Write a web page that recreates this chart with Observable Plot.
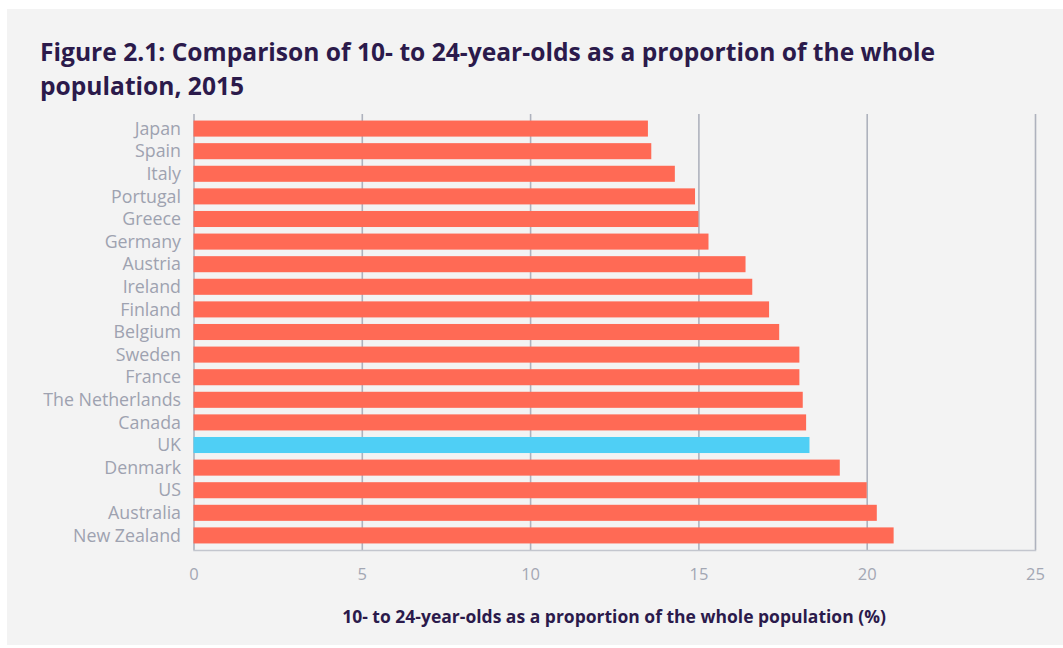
<!DOCTYPE html>
<html>
<head>
<meta charset="utf-8">
<script src="https://cdn.jsdelivr.net/npm/d3@7"></script>
<script src="https://cdn.jsdelivr.net/npm/@observablehq/plot@0.6"></script>
<style>
  html, body { margin: 0; padding: 0; background: #ffffff; }
  #panel { position: absolute; left: 7px; top: 9px; width: 1056px; height: 636px; background: #f3f3f3; overflow: hidden; }
  #title { position: absolute; left: 33px; top: 26px; width: 1020px; font-family: "Open Sans", sans-serif; font-weight: 700; font-size: 24.6px; line-height: 34px; color: #2b1a4b; }
  #chart { position: absolute; left: 0; top: 95px; }
  #xlabel { position: absolute; left: 186px; width: 842px; top: 595px; text-align: center; font-family: "Open Sans", sans-serif; font-weight: 700; font-size: 17.5px; color: #2b1a4b; }
</style>
</head>
<body>
<div id="panel">
  <div id="title">Figure 2.1: Comparison of 10- to 24-year-olds as a proportion of the whole<br>population, 2015</div>
  <div id="chart"></div>
  <div id="xlabel">10- to 24-year-olds as a proportion of the whole population (%)</div>
</div>
<script>
const countries = ["Japan","Spain","Italy","Portugal","Greece","Germany","Austria","Ireland","Finland","Belgium","Sweden","France","The Netherlands","Canada","UK","Denmark","US","Australia","New Zealand"];
const values = [13.5,13.6,14.3,14.9,15.0,15.3,16.4,16.6,17.1,17.4,18.0,18.0,18.1,18.2,18.3,19.2,20.0,20.3,20.8];
const highlight = "UK";
const xTicks = [0,5,10,15,20,25];

const data = countries.map((c, i) => ({country: c, value: values[i]}));

const plot = Plot.plot({
  width: 1056,
  height: 500,
  marginTop: 10,
  marginBottom: 54,
  marginLeft: 186.5,
  marginRight: 28,
  style: { background: "transparent", fontFamily: "'Open Sans', sans-serif" },
  x: { domain: [0, 25], ticks: xTicks, label: null },
  y: { domain: countries, padding: 0.29, round: false, label: null },
  marks: [
    Plot.ruleX(xTicks, { stroke: "#aeb2bd", strokeWidth: 1.6 }),
    Plot.frame({ anchor: "bottom", stroke: "#c3c6ce", strokeWidth: 1.5 }),
    Plot.barX(data, { x: "value", y: "country", fill: d => d.country === highlight ? "#4fcff5" : "#ff6a55" }),
    Plot.axisX({ ticks: xTicks, tickSize: 0, tickPadding: 18, fontSize: 16.5, color: "#a3a7b3", label: null }),
    Plot.axisY({ tickSize: 0, tickPadding: 13, fontSize: 17.8, color: "#9ea2b0", label: null })
  ]
});
document.getElementById("chart").appendChild(plot);
</script>
</body>
</html>
